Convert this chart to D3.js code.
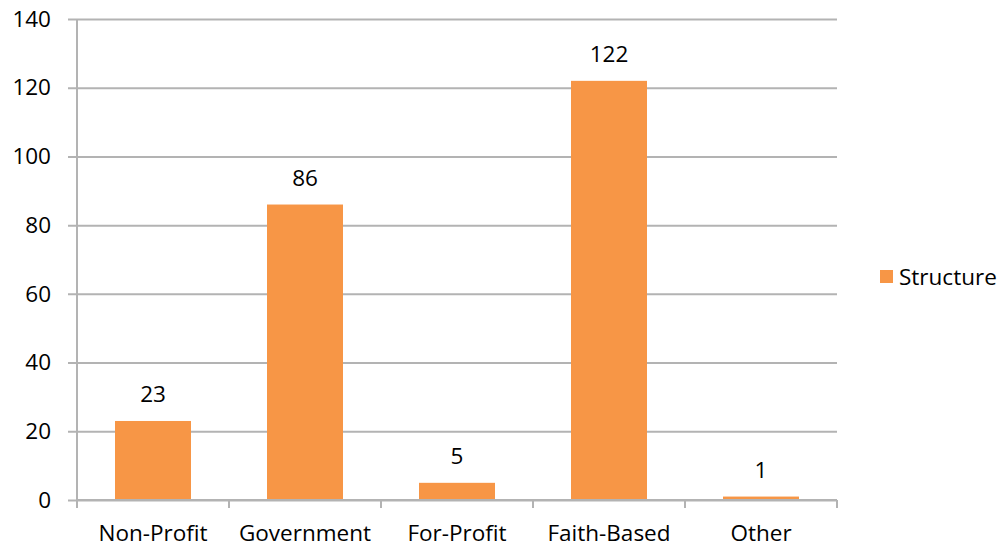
<!DOCTYPE html>
<html>
<head>
<meta charset="utf-8">
<script src="https://cdn.jsdelivr.net/npm/d3@7"></script>
<style>
  body { margin: 0; background: #fff; }
  text { font-family: "Open Sans", sans-serif; fill: #000; }
</style>
</head>
<body>
<div id="chart"></div>
<script>
const categories = ['Non-Profit', 'Government', 'For-Profit', 'Faith-Based', 'Other']
const values = [23, 86, 5, 122, 1]
const yTicks = [0, 20, 40, 60, 80, 100, 120, 140]
const seriesName = 'Structure'

function draw() {
  const dimensions = { width: 1007, height: 548 }
  const plot = { left: 77, right: 837, top: 19, bottom: 500 }
  const barColor = '#f79646'
  const gridColor = '#b3b3b3'
  const fontSize = 22.5

  const svg = d3.select('#chart')
    .append('svg')
    .attr('width', dimensions.width)
    .attr('height', dimensions.height)

  const xScale = d3.scaleBand()
    .domain(categories)
    .range([plot.left, plot.right])
    .paddingInner(0.5)
    .paddingOuter(0.25)

  const yScale = d3.scaleLinear()
    .domain([0, 140])
    .range([plot.bottom, plot.top])

  // gridlines + y ticks
  const yAxis = d3.axisLeft(yScale)
    .tickValues(yTicks)
    .tickSize(-(plot.right - plot.left))
    .tickSizeOuter(0)
    .tickPadding(26)

  const yG = svg.append('g')
    .attr('transform', `translate(${plot.left},0)`)
    .call(yAxis)
  yG.select('.domain').remove()
  yG.selectAll('.tick line')
    .attr('x1', -9)
    .attr('stroke', gridColor)
    .attr('stroke-width', 2)
  yG.selectAll('.tick text')
    .attr('font-size', fontSize)
    .attr('font-family', '"Open Sans", sans-serif')
    .attr('fill', '#000')

  // bars
  svg.append('g')
    .selectAll('rect')
    .data(values)
    .join('rect')
    .attr('x', (d, i) => xScale(categories[i]))
    .attr('y', d => yScale(d))
    .attr('width', xScale.bandwidth())
    .attr('height', d => yScale(0) - yScale(d))
    .attr('fill', barColor)

  // data labels
  svg.append('g')
    .selectAll('text')
    .data(values)
    .join('text')
    .attr('x', (d, i) => xScale(categories[i]) + xScale.bandwidth() / 2)
    .attr('y', d => yScale(d) - 19)
    .attr('text-anchor', 'middle')
    .attr('font-size', fontSize)
    .text(d => d)

  // y axis line
  svg.append('line')
    .attr('x1', plot.left).attr('x2', plot.left)
    .attr('y1', yScale(140)).attr('y2', yScale(0) + 1)
    .attr('stroke', gridColor)
    .attr('stroke-width', 2)

  // x axis with boundary ticks
  const step = xScale.step()
  const boundaries = d3.range(categories.length + 1).map(i => plot.left + i * step)
  svg.append('line')
    .attr('x1', plot.left).attr('x2', plot.right)
    .attr('y1', plot.bottom).attr('y2', plot.bottom)
    .attr('stroke', gridColor)
    .attr('stroke-width', 2)
  svg.append('g')
    .selectAll('line')
    .data(boundaries)
    .join('line')
    .attr('x1', d => d).attr('x2', d => d)
    .attr('y1', plot.bottom).attr('y2', plot.bottom + 8)
    .attr('stroke', gridColor)
    .attr('stroke-width', 2)

  svg.append('g')
    .selectAll('text')
    .data(categories)
    .join('text')
    .attr('x', d => xScale(d) + xScale.bandwidth() / 2)
    .attr('y', plot.bottom + 41)
    .attr('text-anchor', 'middle')
    .attr('font-size', fontSize)
    .text(d => d)

  // legend
  const legend = svg.append('g').attr('transform', 'translate(880,270)')
  legend.append('rect')
    .attr('width', 13).attr('height', 13)
    .attr('fill', barColor)
  legend.append('text')
    .attr('x', 19).attr('y', 15)
    .attr('font-size', fontSize)
    .text(seriesName)
}

draw()
</script>
</body>
</html>
